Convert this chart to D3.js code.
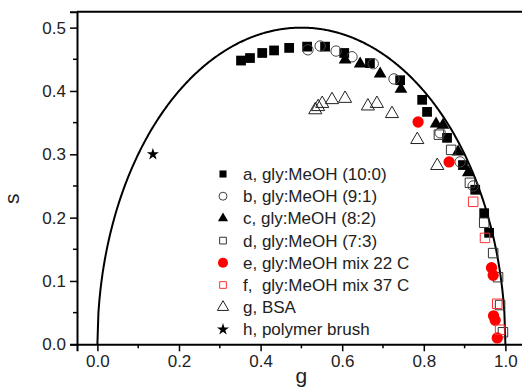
<!DOCTYPE html>
<html lang="en">
<head>
  <meta charset="UTF-8">
  <title>Phasor plot</title>
  <script src="https://d3js.org/d3.v7.min.js"></script>
  <style>
    body { margin: 0; background: #fff; }
    svg { display: block; font-family: "Liberation Sans", Arial, sans-serif; }
    .tick text { font-size: 17px; fill: #222; }
    .legend text { font-size: 17px; fill: #222; white-space: pre; }
  </style>
</head>
<body>
  <svg id="chart" width="522" height="389"></svg>
  <script>
    // ---- data (g, s) ----
    const seriesA_g = [0.352, 0.374, 0.404, 0.433, 0.470, 0.514, 0.558, 0.605, 0.668, 0.742, 0.796, 0.808, 0.857, 0.896, 0.926, 0.948, 0.960];
    const seriesA_s = [0.448, 0.452, 0.460, 0.464, 0.468, 0.470, 0.470, 0.460, 0.444, 0.417, 0.386, 0.367, 0.326, 0.283, 0.244, 0.207, 0.176];

    const seriesB_g = [0.516, 0.546, 0.585, 0.624, 0.676, 0.727, 0.840, 0.889, 0.921];
    const seriesB_s = [0.465, 0.471, 0.463, 0.454, 0.443, 0.419, 0.334, 0.288, 0.250];

    const seriesC_g = [0.607, 0.644, 0.693, 0.744, 0.830, 0.847, 0.884, 0.909];
    const seriesC_s = [0.449, 0.443, 0.427, 0.403, 0.348, 0.346, 0.304, 0.271];

    const seriesD_g = [0.837, 0.867, 0.913, 0.948, 0.970, 0.982, 0.987, 0.994];
    const seriesD_s = [0.331, 0.307, 0.255, 0.192, 0.144, 0.106, 0.062, 0.019];

    const seriesE_g = [0.786, 0.862, 0.966, 0.970, 0.971, 0.975, 0.980];
    const seriesE_s = [0.351, 0.288, 0.121, 0.109, 0.045, 0.038, 0.010];

    const seriesF_g = [0.921, 0.950, 0.980, 0.987];
    const seriesF_s = [0.225, 0.168, 0.064, 0.023];

    const seriesG_g = [0.534, 0.541, 0.551, 0.575, 0.607, 0.663, 0.685, 0.722, 0.784, 0.833];
    const seriesG_s = [0.370, 0.375, 0.380, 0.386, 0.388, 0.376, 0.380, 0.364, 0.323, 0.282];

    const seriesH_g = [0.136];
    const seriesH_s = [0.300];

    const legendLabels = [
      "a, gly:MeOH (10:0)",
      "b, gly:MeOH (9:1)",
      "c, gly:MeOH (8:2)",
      "d, gly:MeOH (7:3)",
      "e, gly:MeOH mix 22 C",
      "f,  gly:MeOH mix 37 C",
      "g, BSA",
      "h, polymer brush"
    ];

    const xTicks = [0.0, 0.2, 0.4, 0.6, 0.8, 1.0];
    const yTicks = [0.0, 0.1, 0.2, 0.3, 0.4, 0.5];

    // ---- marker styles per series ----
    const styles = [
      {g: seriesA_g, s: seriesA_s, type: d3.symbolSquare,   fill: "#000", stroke: "none", size: 95,  lsize: 50},
      {g: seriesB_g, s: seriesB_s, type: d3.symbolCircle,   fill: "none", stroke: "#444", size: 85,  lsize: 50},
      {g: seriesC_g, s: seriesC_s, type: d3.symbolTriangle, fill: "#000", stroke: "none", size: 70,  lsize: 45},
      {g: seriesD_g, s: seriesD_s, type: d3.symbolSquare,   fill: "none", stroke: "#333", size: 90,  lsize: 45},
      {g: seriesE_g, s: seriesE_s, type: d3.symbolCircle,   fill: "#f00", stroke: "none", size: 100, lsize: 80},
      {g: seriesF_g, s: seriesF_s, type: d3.symbolSquare,   fill: "none", stroke: "#f33", size: 90,  lsize: 45},
      {g: seriesG_g, s: seriesG_s, type: d3.symbolTriangle, fill: "none", stroke: "#222", size: 75,  lsize: 55},
      {g: seriesH_g, s: seriesH_s, type: d3.symbolStar,     fill: "#000", stroke: "none", size: 45,  lsize: 45}
    ];

    const svg = d3.select("#chart");

    // scales
    const x = d3.scaleLinear().domain([-0.05, 1.05]).range([77, 525.8]);
    const y = d3.scaleLinear().domain([0, 0.525]).range([344.3, 11.8]);

    // frame (top and right lines)
    svg.append("path")
      .attr("d", `M${x(-0.05)},${y(0.525)}H${x(1.05)}V${y(0)}`)
      .attr("fill", "none")
      .attr("stroke", "#000")
      .attr("stroke-width", 2);

    // x axis
    const xAxis = svg.append("g")
      .attr("transform", `translate(0,${y(0)})`)
      .call(d3.axisBottom(x).tickValues(xTicks).tickFormat(d3.format(".1f")).tickSize(7).tickPadding(4));
    xAxis.append("g").selectAll("line")
      .data([0.1, 0.3, 0.5, 0.7, 0.9])
      .join("line")
      .attr("x1", d => x(d)).attr("x2", d => x(d))
      .attr("y1", 0).attr("y2", 4)
      .attr("stroke", "#000").attr("stroke-width", 1.5);

    // y axis
    const yAxis = svg.append("g")
      .attr("transform", `translate(${x(-0.05)},0)`)
      .call(d3.axisLeft(y).tickValues(yTicks).tickFormat(d3.format(".1f")).tickSize(7).tickPadding(4));
    yAxis.append("g").selectAll("line")
      .data([0.05, 0.15, 0.25, 0.35, 0.45])
      .join("line")
      .attr("x1", 0).attr("x2", -4)
      .attr("y1", d => y(d)).attr("y2", d => y(d))
      .attr("stroke", "#000").attr("stroke-width", 1.5);

    svg.selectAll(".domain").attr("stroke-width", 2).attr("stroke", "#000");
    svg.selectAll(".tick line").attr("stroke-width", 1.5);
    svg.selectAll(".tick text").attr("fill", "#222");

    // axis titles
    svg.append("text")
      .attr("x", x(0.5)).attr("y", 383)
      .attr("text-anchor", "middle")
      .attr("font-size", 21).attr("fill", "#222")
      .text("g");
    svg.append("text")
      .attr("transform", `translate(19,${y(0.23)}) rotate(-90)`)
      .attr("text-anchor", "middle")
      .attr("font-size", 21).attr("fill", "#222")
      .text("s");

    // universal semicircle
    const arcPts = d3.range(0, 1.0001, 0.0025).map(g => [g, Math.sqrt(Math.max(0, g - g * g))]);
    svg.append("path")
      .datum(arcPts)
      .attr("fill", "none")
      .attr("stroke", "#000")
      .attr("stroke-width", 2)
      .attr("d", d3.line().x(d => x(d[0])).y(d => y(d[1])));

    // data markers
    styles.forEach(st => {
      svg.append("g").selectAll("path")
        .data(st.g.map((g, i) => [g, st.s[i]]))
        .join("path")
        .attr("transform", d => `translate(${x(d[0])},${y(d[1])})`)
        .attr("d", d3.symbol().type(st.type).size(st.size))
        .attr("fill", st.fill)
        .attr("stroke", st.stroke)
        .attr("stroke-width", 1);
    });

    // legend
    const legend = svg.append("g").attr("class", "legend");
    legendLabels.forEach((label, i) => {
      const st = styles[i];
      const row = legend.append("g").attr("transform", `translate(223,${174 + i * 22.2})`);
      row.append("path")
        .attr("d", d3.symbol().type(st.type).size(st.lsize))
        .attr("fill", st.fill)
        .attr("stroke", st.stroke)
        .attr("stroke-width", 1);
      row.append("text")
        .attr("x", 20).attr("y", 6)
        .attr("xml:space", "preserve")
        .text(label);
    });
  </script>
</body>
</html>
